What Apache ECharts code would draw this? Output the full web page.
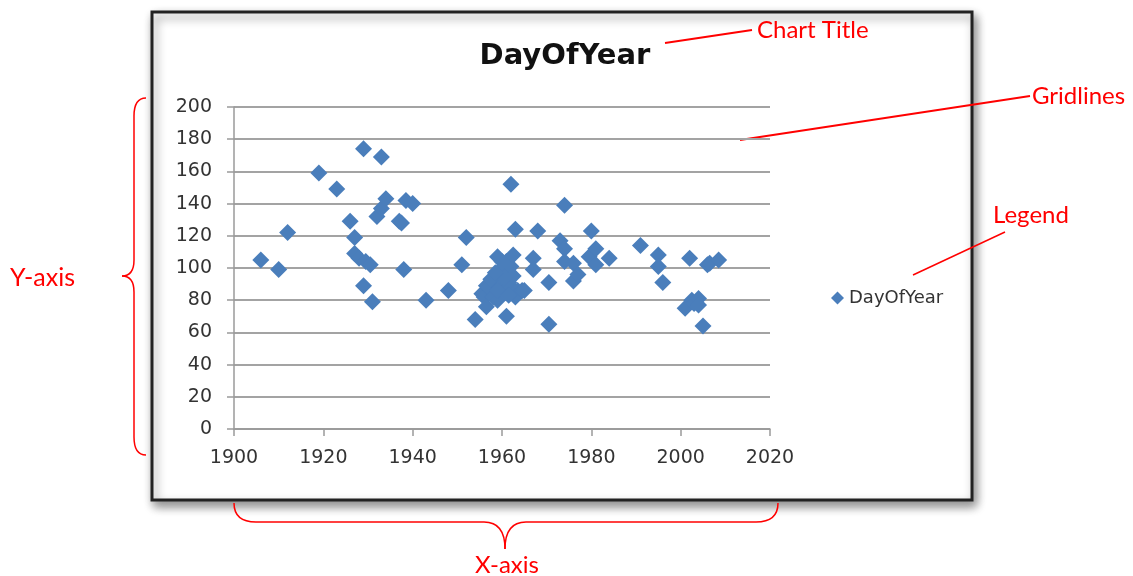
<!DOCTYPE html>
<html>
<head>
<meta charset="utf-8">
<title>DayOfYear</title>
<script src="https://cdn.jsdelivr.net/npm/echarts@6/dist/echarts.min.js"></script>
<style>
  html, body { margin: 0; padding: 0; background: #fff; }
  #main { width: 1133px; height: 576px; }
</style>
</head>
<body>
<div id="main"></div>
<script>
// data
const years = [1906, 1910, 1912, 1919, 1923, 1926, 1927, 1927, 1928, 1929, 1929, 1929.5, 1930.5, 1931,
  1933, 1932, 1933, 1934, 1937, 1937.5, 1938, 1938.5, 1940, 1943, 1948, 1951, 1952, 1954,
  1955.5, 1956.5, 1956, 1956.5, 1957, 1958, 1958, 1959, 1959, 1959.5, 1960, 1960, 1960.5, 1961, 1961,
  1961.5, 1962, 1962.5, 1962, 1962.5, 1963.5, 1963, 1964.5, 1965, 1961, 1962, 1963,
  1967, 1967, 1968, 1970.5, 1970.5, 1974, 1973, 1974, 1974, 1976, 1976, 1977, 1979.5, 1980, 1981, 1981,
  1984, 1991, 1995, 1995, 1996, 2001, 2002, 2002.5, 2003, 2004, 2004, 2005, 2006, 2006.5, 2008.5,
  1957.5, 1959, 1960.5, 1961.5, 1958.5, 1960];
const days = [105, 99, 122, 159, 149, 129, 119, 109, 106, 174, 89, 104, 102, 79,
  169, 132, 137, 143, 129, 128, 99, 142, 140, 80, 86, 102, 119, 68,
  84, 89, 82, 76, 88, 82, 92, 107, 80, 95, 90, 100, 86, 97, 104,
  91, 101, 108, 88, 95, 86, 82, 86, 86, 70, 152, 124,
  106, 99, 123, 91, 65, 139, 117, 112, 104, 103, 92, 96, 107, 123, 102, 112,
  106, 114, 108, 101, 91, 75, 106, 80, 78, 81, 77, 64, 102, 103, 105,
  93, 86, 94, 83, 97, 104];
const xTicks = [1900, 2020, 20];
const yTicks = [0, 200, 20];
const seriesName = 'DayOfYear';

const points = years.map(function (y, i) { return [y, days[i]]; });

const red = '#ff0000';
const annoFont = 'Lato, "Open Sans", sans-serif';
const chartFont = '"DejaVu Sans", sans-serif';

// curly brace made of lines and quadratic curves
function brace(segs) {
  return segs.map(function (s) {
    if (s.length === 4) {
      return { type: 'line', shape: { x1: s[0], y1: s[1], x2: s[2], y2: s[3] },
        style: { stroke: red, lineWidth: 1.5 } };
    }
    return { type: 'bezierCurve',
      shape: { x1: s[0], y1: s[1], cpx1: s[2], cpy1: s[3], x2: s[4], y2: s[5] },
      style: { stroke: red, lineWidth: 1.5, fill: null } };
  });
}

const yBrace = brace([
  [146, 98, 134, 98, 134, 116],
  [134, 116, 134, 260],
  [134, 260, 134, 276, 122, 276],
  [122, 276, 134, 276, 134, 292],
  [134, 292, 134, 437],
  [134, 437, 134, 455, 146, 455]
]);
const xBrace = brace([
  [234, 503, 234, 522, 256, 522],
  [256, 522, 484, 522],
  [484, 522, 505, 522, 505, 549],
  [505, 549, 505, 522, 526, 522],
  [526, 522, 756, 522],
  [756, 522, 778, 522, 778, 503]
]);

let myChart = echarts.init(document.getElementById('main'));

let option = {
  animation: false,
  title: {
    text: 'DayOfYear',
    left: 560,
    textAlign: 'center',
    top: 37,
    textStyle: { fontFamily: chartFont, fontWeight: 'bold', fontSize: 29, color: '#111' }
  },
  legend: {
    data: [seriesName],
    left: 826,
    top: 284,
    icon: 'diamond',
    itemWidth: 13,
    itemHeight: 13,
    itemGap: 4,
    textStyle: { fontFamily: chartFont, fontSize: 18, color: '#333' }
  },
  grid: { left: 234, top: 107, width: 536, height: 322 },
  xAxis: {
    type: 'value',
    min: xTicks[0], max: xTicks[1], interval: xTicks[2],
    axisLine: { show: true, onZero: false, lineStyle: { color: '#9a9a9a', width: 1.5 } },
    axisTick: { show: true, length: 7, lineStyle: { color: '#9a9a9a', width: 1.5 } },
    splitLine: { show: false },
    axisLabel: { fontFamily: chartFont, fontSize: 19, color: '#333', margin: 20,
      formatter: function (v) { return String(v); } }
  },
  yAxis: {
    type: 'value',
    min: yTicks[0], max: yTicks[1], interval: yTicks[2],
    axisLine: { show: true, lineStyle: { color: '#9a9a9a', width: 1.5 } },
    axisTick: { show: true, length: 7, lineStyle: { color: '#9a9a9a', width: 1.5 } },
    splitLine: { show: true, lineStyle: { color: '#a3a3a3', width: 2 } },
    axisLabel: { fontFamily: chartFont, fontSize: 19, color: '#333', margin: 22 }
  },
  series: [{
    name: seriesName,
    type: 'scatter',
    symbol: 'diamond',
    symbolSize: 17,
    itemStyle: { color: '#4a7ebb', opacity: 1 },
    data: points
  }],
  graphic: [
    // chart frame
    {
      type: 'rect', z: -10,
      shape: { x: 152, y: 12, width: 820, height: 488 },
      style: { fill: '#fff', stroke: '#222', lineWidth: 3,
        shadowBlur: 10, shadowColor: 'rgba(0,0,0,0.45)', shadowOffsetX: 3, shadowOffsetY: 5 }
    },
    // Chart Title
    { type: 'line', shape: { x1: 665, y1: 43, x2: 752, y2: 30 }, style: { stroke: red, lineWidth: 2 } },
    { type: 'text', x: 757, y: 30, style: { text: 'Chart Title', fill: red, font: '24px ' + annoFont, verticalAlign: 'middle' } },
    // Gridlines
    { type: 'line', shape: { x1: 740, y1: 140, x2: 1030, y2: 96 }, style: { stroke: red, lineWidth: 2 } },
    { type: 'text', x: 1032, y: 96, style: { text: 'Gridlines', fill: red, font: '24px ' + annoFont, verticalAlign: 'middle' } },
    // Legend
    { type: 'line', shape: { x1: 913, y1: 275, x2: 1005, y2: 232 }, style: { stroke: red, lineWidth: 1.5 } },
    { type: 'text', x: 993, y: 215, style: { text: 'Legend', fill: red, font: '24px ' + annoFont, verticalAlign: 'middle' } },
    // Y-axis
    { type: 'text', x: 10, y: 278, style: { text: 'Y-axis', fill: red, font: '25px ' + annoFont, verticalAlign: 'middle' } },
    // X-axis
    { type: 'text', x: 507, y: 565, style: { text: 'X-axis', fill: red, font: '24px ' + annoFont, align: 'center', verticalAlign: 'middle' } }
  ].concat(yBrace, xBrace)
};

myChart.setOption(option);
</script>
</body>
</html>
